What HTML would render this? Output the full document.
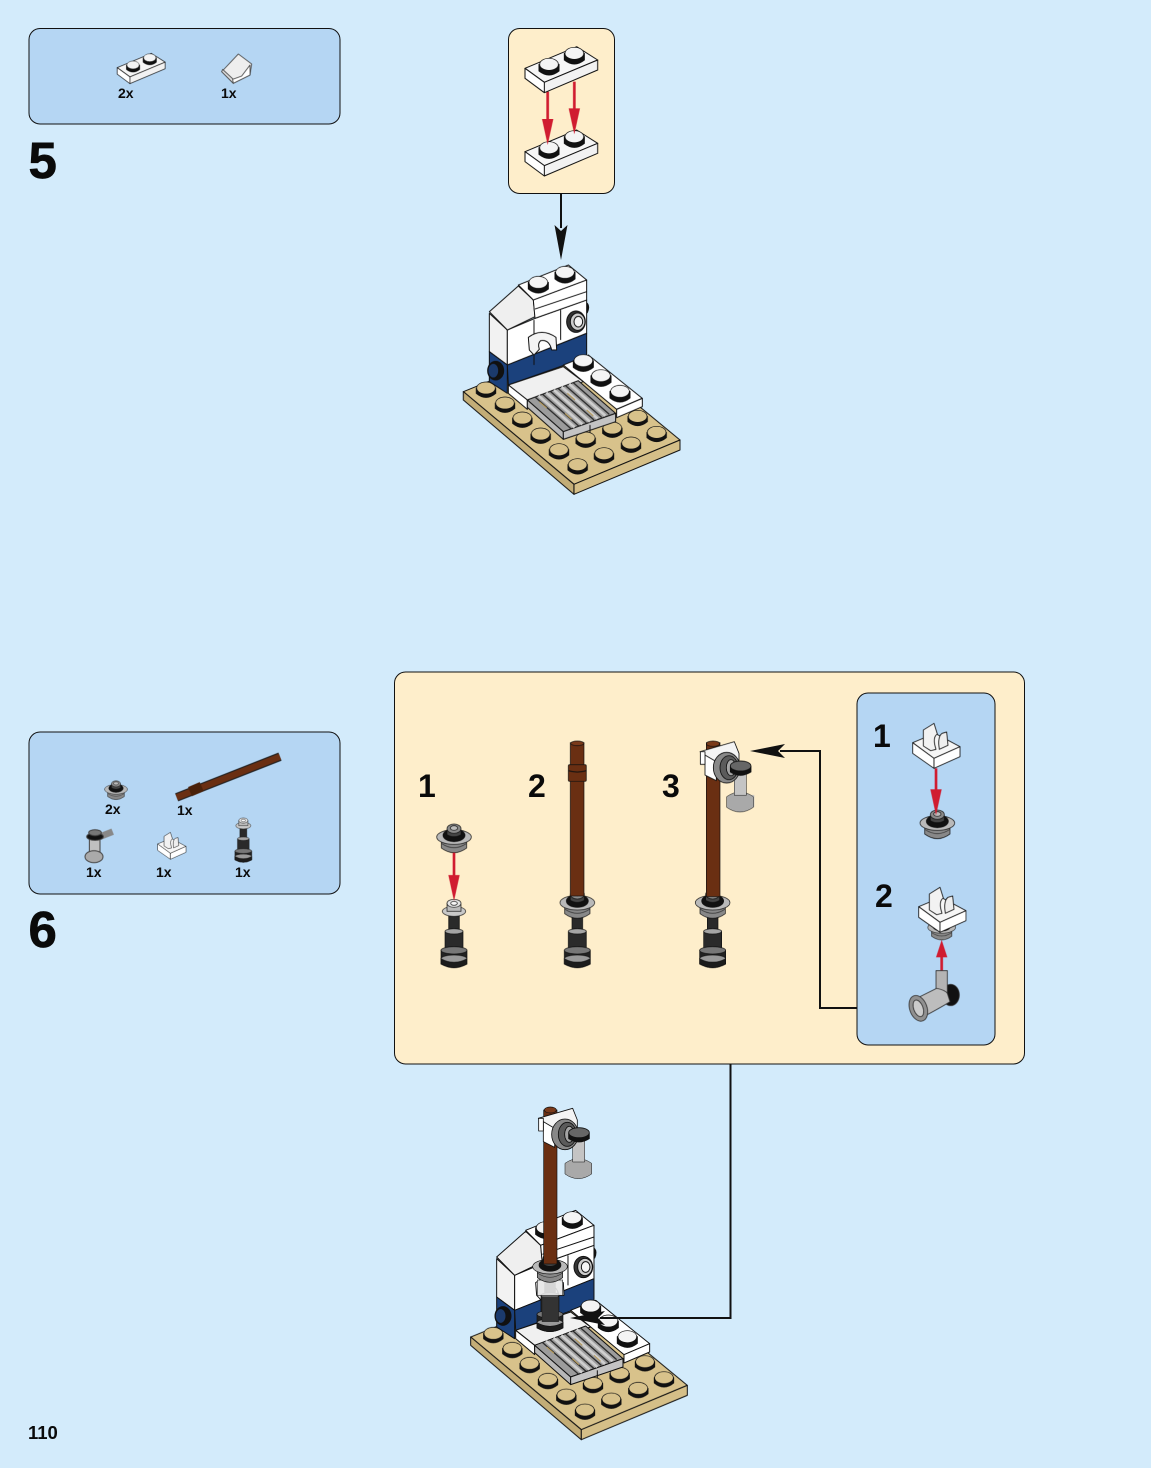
<!DOCTYPE html>
<html><head><meta charset="utf-8"><style>
html,body{margin:0;padding:0;background:#d3ebfb}
svg{display:block}
text{font-family:"Liberation Sans",Arial,sans-serif;font-weight:bold;fill:#0a0a0a}
.art{filter:blur(.35px)}
.big{stroke:#0a0a0a;stroke-width:.7px}
</style></head><body>
<svg width="1151" height="1468" viewBox="0 0 1151 1468" xmlns="http://www.w3.org/2000/svg">
<defs>
<g id="st"><path d="M-29,-6V10Q0,34 29,10V-6Z" fill="#111"/><ellipse cx="0" cy="-6" rx="28" ry="18" fill="#d8c28b" stroke="#111" stroke-width="2"/></g>
<g id="sw"><path d="M-30,-8V12Q0,36 30,12V-8Z" fill="#111"/><ellipse cx="0" cy="-8" rx="28" ry="18" fill="#f4f4f4" stroke="#111" stroke-width="2"/></g>
<g id="model" stroke="#111" stroke-width="3" stroke-linejoin="round">
<polygon points="40,425 358,296 690,570 372,703" fill="#d8c28b"/>
<polygon points="40,425 372,703 372,733 40,450" fill="#c3ad77"/>
<polygon points="372,703 690,570 690,600 372,733" fill="#d5bf88"/>
<use href="#st" x="108" y="420"/><use href="#st" x="165" y="465"/><use href="#st" x="217" y="510"/><use href="#st" x="272" y="558"/><use href="#st" x="327" y="605"/><use href="#st" x="383" y="650"/><use href="#st" x="407" y="570"/><use href="#st" x="462" y="617"/><use href="#st" x="487" y="540"/><use href="#st" x="543" y="585"/><use href="#st" x="563" y="505"/><use href="#st" x="620" y="553"/>
<polygon points="118,190 172,240 172,345 118,305" fill="#f2f2f2"/>
<polygon points="118,305 172,345 172,430 118,395" fill="#1b417c"/>
<polygon points="172,240 255,205 410,150 410,250 172,345" fill="#fff"/>
<polygon points="172,345 410,250 410,330 345,345 175,405" fill="#1b417c"/>
<path d="M252,210V345M332,180V270" fill="none"/>
<polygon points="118,185 205,108 250,150 255,200 172,240" fill="#efefef"/>
<polygon points="205,105 355,45 410,90 250,150" fill="#fff"/>
<polygon points="250,150 410,90 410,150 255,205" fill="#fff"/>
<path d="M255,177L410,125" fill="none"/>
<use href="#sw" x="265" y="105"/><use href="#sw" x="345" y="75"/>
<ellipse cx="378" cy="215" rx="28" ry="32" fill="#333"/><ellipse cx="383" cy="215" rx="22" ry="26" fill="#ccc"/><ellipse cx="385" cy="215" rx="13" ry="16" fill="#f4f4f4"/>
<path d="M412,160q8,10 0,28z" fill="#111"/>
<ellipse cx="137" cy="362" rx="24" ry="28" fill="#111"/><ellipse cx="130" cy="362" rx="16" ry="22" fill="#1b3a6c"/>
<path d="M235,262Q275,232 318,262L320,300L305,300Q298,268 272,272Q262,280 268,298L252,315L238,300Z" fill="#f4f4f4"/>
<polygon points="340,345 415,315 577,445 500,478" fill="#fff"/>
<polygon points="500,478 577,445 577,470 500,503" fill="#fff"/>
<use href="#sw" x="400" y="340"/><use href="#sw" x="453" y="385"/><use href="#sw" x="510" y="432"/>
<polygon points="175,405 340,350 400,395 232,450" fill="#f0f0f0"/>
<polygon points="175,405 232,450 232,478 175,430" fill="#fff"/>
<polygon points="232,450 385,392 497,490 340,545" fill="#9c9c9c"/>
<polygon points="232,450 340,545 340,568 232,472" fill="#b8b8b8"/>
<polygon points="340,545 497,490 497,515 340,568" fill="#c4c4c4"/>
<path d="M266,437L374,532M289,428L397,523M312,420L420,515M335,411L443,506M358,402L466,497" fill="none" stroke="#cfcfcf" stroke-width="8"/>
<path d="M255,441L363,536M278,433L386,528M301,424L409,519M324,415L432,510M347,407L455,502M370,398L478,493" fill="none" stroke="#2c2c2c" stroke-width="4"/>
<path d="M420,525V548" fill="none"/>
<path d="M268,455L290,474M345,490L365,508M352,430L375,450M410,480L430,498" fill="none" stroke="#b89a55" stroke-width="3"/>
</g>
<g id="pillar" stroke="#111" stroke-width="2">
<rect x="-16" y="40" width="32" height="62" fill="#2a2a2a"/>
<rect x="-27" y="92" width="54" height="62" rx="4" fill="#2a2a2a"/>
<ellipse cx="0" cy="94" rx="27" ry="8" fill="#a5a5a5"/>
<path d="M-39,150H39V192Q0,214 -39,192Z" fill="#222"/>
<ellipse cx="0" cy="151" rx="39" ry="11" fill="#777"/>
<ellipse cx="0" cy="176" rx="39" ry="11" fill="#999"/>
<path d="M-39,176Q0,198 39,176V192Q0,214 -39,192Z" fill="#1c1c1c"/>
<ellipse cx="0" cy="34" rx="35" ry="15" fill="#c8c8c8"/>
<rect x="-21" y="10" width="42" height="24" fill="#bbb"/>
<ellipse cx="0" cy="10" rx="21" ry="12" fill="#e4e4e4"/><ellipse cx="0" cy="10" rx="10" ry="6" fill="#f7f7f7"/>
</g>
<g id="washer" stroke="#111" stroke-width="2">
<path d="M-38,8V36Q0,64 38,36V8Z" fill="#888"/>
<path d="M-38,22Q0,48 38,22" fill="none" stroke="#333"/>
<ellipse cx="0" cy="3" rx="52" ry="22" fill="#b9b9b9"/>
<ellipse cx="0" cy="-2" rx="33" ry="19" fill="#111"/>
<path d="M-21,-20V-4Q0,8 21,-4V-20Z" fill="#444"/>
<ellipse cx="0" cy="-22" rx="21" ry="14" fill="#8a8a8a"/>
<ellipse cx="0" cy="-24" rx="11" ry="7" fill="#bbb"/>
</g>
<g id="lamp" stroke="#111" stroke-width="2.5" stroke-linejoin="round">
<path d="M315,190Q355,162 395,190V222Q355,250 315,222Z" fill="#a9a9a9" stroke-width="1.5"/>
<rect x="338" y="120" width="36" height="66" fill="#c4c4c4" stroke-width="1.5"/>
<polygon points="235,55 338,25 352,60 352,85 282,110 250,70" fill="#f4f4f4"/>
<polygon points="250,65 284,85 284,142 250,125" fill="#fff"/>
<rect x="236" y="55" width="14" height="38" fill="#fff"/>
<ellipse cx="315" cy="103" rx="40" ry="46" fill="#888"/>
<ellipse cx="322" cy="103" rx="27" ry="36" fill="#5b5b5b"/>
<ellipse cx="328" cy="103" rx="14" ry="24" fill="#a5a5a5"/>
<path d="M326,100Q356,78 388,100V116Q356,136 326,116Z" fill="#111"/>
<ellipse cx="357" cy="98" rx="31" ry="15" fill="#666"/>
</g>
<g id="clip" stroke="#111" stroke-width="2.5" stroke-linejoin="round">
<polygon points="158,128 225,100 300,140 222,175" fill="#f6f6f6"/>
<polygon points="158,128 222,175 222,205 158,160" fill="#fff"/>
<polygon points="222,175 300,140 300,170 222,205" fill="#fff"/>
<path d="M190,138L190,90L222,70L232,102Q216,112 228,148L212,152Z" fill="#f2f2f2"/>
<path d="M238,148Q232,110 246,100L260,96L264,136Z" fill="#eee"/>
</g>
<g id="plate" stroke="#111" stroke-width="3" stroke-linejoin="round">
<polygon points="60,130 215,65 278,105 118,172" fill="#f6f6f6"/>
<polygon points="60,130 118,172 118,203 60,160" fill="#fff"/>
<polygon points="118,172 278,105 278,135 118,203" fill="#f2f2f2"/>
<use href="#sw" x="132" y="126"/><use href="#sw" x="208" y="93"/>
</g>
<g id="redhead"><polygon points="-17,0 17,0 0,78" fill="#d01c30"/></g>
</defs>

<rect width="1151" height="1468" fill="#d3ebfb"/>

<rect x="29" y="28.500" width="311" height="95.500" rx="11" fill="#b5d6f3" stroke="#111"/>
<rect x="508.500" y="28.500" width="106" height="165" rx="11" fill="#feeecb" stroke="#111"/>
<rect x="29" y="732" width="311" height="162" rx="11" fill="#b5d6f3" stroke="#111"/>
<rect x="394.500" y="672" width="630" height="392" rx="11" fill="#feeecb" stroke="#111"/>
<rect x="857" y="693" width="138" height="352" rx="11" fill="#b5d6f3" stroke="#111"/>

<text class="big" x="28.500" y="178" font-size="51">5</text>
<text class="big" x="28.500" y="947" font-size="51">6</text>
<text x="28" y="1439" font-size="18.500">110</text>
<text x="118" y="98" font-size="14">2x</text>
<text x="221" y="98" font-size="14">1x</text>
<text x="105" y="814" font-size="14">2x</text>
<text x="177" y="815" font-size="14">1x</text>
<text x="86" y="877" font-size="14">1x</text>
<text x="156" y="877" font-size="14">1x</text>
<text x="235" y="877" font-size="14">1x</text>
<text x="418" y="797" font-size="32">1</text>
<text x="528" y="797" font-size="32">2</text>
<text x="662" y="797" font-size="32">3</text>
<text x="873" y="747" font-size="32">1</text>
<text x="875" y="907" font-size="32">2</text>

<g class="art">
<!-- parts list 1 -->
<g transform="translate(100 40) scale(.3333)">
<g transform="translate(12 -3) scale(.66)"><use href="#plate"/></g>
<g stroke="#444" stroke-width="2.500" stroke-linejoin="round">
<polygon points="365,95 415,42 455,72 450,105 400,130" fill="#eee"/>
<polygon points="365,95 400,130 400,118 368,88" fill="#ddd"/>
<polygon points="400,130 450,105 450,75 425,108 398,118" fill="#fff"/>
</g>
</g>

<!-- parts list 2 -->
<g transform="translate(70 740) scale(.3333)">
<g transform="translate(138 146) scale(.66)"><use href="#washer"/></g>
<path d="M320,172L630,50" stroke="#222" stroke-width="26" fill="none"/>
<path d="M320,172L630,50" stroke="#6a2f12" stroke-width="19" fill="none"/>
<path d="M360,155L395,140" stroke="#4a2109" stroke-width="30" fill="none"/>
<g stroke="#444" stroke-width="3">
<path d="M90,290L128,275" stroke-width="20" stroke="#888" fill="none"/>
<rect x="58" y="295" width="32" height="45" fill="#c0c0c0"/>
<ellipse cx="72" cy="350" rx="27" ry="18" fill="#aaa"/>
<ellipse cx="75" cy="290" rx="25" ry="11" fill="#111"/>
<ellipse cx="75" cy="278" rx="19" ry="9" fill="#777"/>
</g>
<g transform="translate(168 235) scale(.6)"><use href="#clip"/></g>
<g transform="translate(520 235) scale(.65)"><use href="#pillar"/></g>
</g>

<!-- step 5 sub-assembly -->
<g transform="translate(505 25) scale(.3333)">
<g transform="translate(0 250)"><use href="#plate"/></g>
<rect x="124" y="200" width="8" height="90" fill="#d01c30"/>
<use href="#redhead" x="128" y="282"/>
<use href="#plate"/>
<rect x="204" y="170" width="8" height="90" fill="#d01c30"/>
<use href="#redhead" x="208" y="250"/>
</g>

<g transform="translate(450 250) scale(.3333)"><use href="#model"/></g>

<!-- steps inside yellow panel -->
<g transform="translate(410 730) scale(.3333)">
<use href="#pillar" x="132" y="510"/>
<use href="#washer" x="132" y="318"/>
<rect x="128" y="368" width="8" height="70" fill="#d01c30"/>
<use href="#redhead" x="132" y="435"/>
<use href="#pillar" x="502" y="510"/>
<use href="#washer" x="502" y="515"/>
<rect x="481" y="38" width="41" height="460" fill="#6a2f12" stroke="#111" stroke-width="2"/>
<ellipse cx="502" cy="40" rx="20" ry="7" fill="#7a3a1a" stroke="#111" stroke-width="2"/>
<rect x="475" y="104" width="54" height="50" rx="4" fill="#6a2f12" stroke="#111" stroke-width="2"/>
<path d="M475,122Q502,130 529,122" stroke="#111" stroke-width="3" fill="none"/>
<use href="#pillar" x="908" y="510"/>
<use href="#washer" x="908" y="515"/>
<rect x="889" y="38" width="41" height="462" fill="#6a2f12" stroke="#111" stroke-width="2"/>
<ellipse cx="909" cy="41" rx="20" ry="8" fill="#7a3a1a" stroke="#111" stroke-width="2"/>
<path d="M1020,195h13v36h-13z" fill="#c4c4c4"/>
<use href="#lamp" transform="translate(635 10)"/>
</g>

<!-- blue panel -->
<g transform="translate(860 700) scale(.3333)">
<use href="#washer" x="232" y="366"/>
<rect x="224" y="205" width="8" height="70" fill="#d01c30"/>
<use href="#redhead" x="228" y="268"/>
<use href="#clip"/>
<use href="#washer" transform="translate(245 680) scale(.8)"/>
<use href="#clip" transform="translate(18 492)"/>
<polygon points="245,720 228,772 262,772" fill="#d01c30"/>
<rect x="241" y="770" width="8" height="42" fill="#d01c30"/>
<g stroke="#333" stroke-width="2.500" stroke-linejoin="round">
<ellipse cx="272" cy="885" rx="26" ry="32" fill="#111"/>
<rect x="228" y="812" width="34" height="70" fill="#b4b4b4"/>
<path d="M230,865Q255,870 262,880L270,905Q250,918 200,945L170,895Z" fill="#bdbdbd"/>
<ellipse cx="175" cy="925" rx="26" ry="40" transform="rotate(-20 175 925)" fill="#909090"/>
<ellipse cx="175" cy="925" rx="14" ry="26" transform="rotate(-20 175 925)" fill="#ccc"/>
</g>
</g>

<!-- step 6 model -->
<g transform="translate(457.330 1195.330) scale(.3333)"><use href="#model"/></g>
<g transform="translate(460 1100) scale(.3333)">
<use href="#pillar" x="270" y="492"/>
<rect x="232" y="540" width="76" height="46" fill="#e8e8e8" stroke="#222" stroke-width="2" opacity=".9"/>
<rect x="246" y="590" width="50" height="75" fill="#333" stroke="#111"/>
<use href="#washer" x="270" y="497"/>
<rect x="251" y="30" width="40" height="462" fill="#6a2f12" stroke="#111" stroke-width="2"/>
<ellipse cx="271" cy="30" rx="18" ry="9" fill="#7a3a1a" stroke="#111" stroke-width="2"/>
<use href="#lamp"/>
</g>
</g>

<!-- black connectors -->
<path d="M561,194V228" stroke="#111" stroke-width="2" fill="none"/>
<polygon points="554.500,225 561,231 567.500,225 561,260" fill="#111"/>
<path d="M857,1008H820V751H780" stroke="#111" stroke-width="2" fill="none"/>
<polygon points="750,751 785,744 778,751 785,758" fill="#111"/>
<path d="M730.500,1064V1318H600" stroke="#111" stroke-width="2" fill="none"/>
<polygon points="570,1318 605,1311 598,1318 605,1325" fill="#111"/>
</svg>
</body></html>
